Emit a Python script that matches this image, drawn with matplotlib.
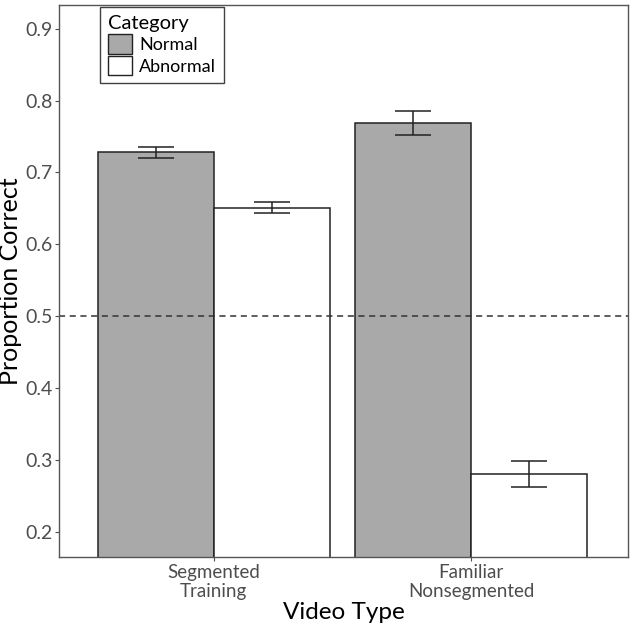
import matplotlib.pyplot as plt
import numpy as np
from matplotlib.patches import Patch

plt.rcParams['font.family'] = ['Lato', 'DejaVu Sans']

video_types = ["Segmented\nTraining", "Familiar\nNonsegmented"]
categories = ["Normal", "Abnormal"]
normal = [0.728, 0.769]
normal_err = [0.0076, 0.017]
abnormal = [0.651, 0.280]
abnormal_err = [0.008, 0.018]

fig = plt.figure(figsize=(6.3, 6.29), dpi=100)
ax = fig.add_axes([0.094, 0.115, 0.903, 0.877])

x = np.arange(1, len(video_types) + 1)
w = 0.45
for vals, errs, off, col in [(normal, normal_err, -w / 2, "#a9a9a9"),
                             (abnormal, abnormal_err, w / 2, "white")]:
    ax.bar(x + off, vals, width=w, bottom=0, color=col, edgecolor="#222222", linewidth=1.1)
    ax.errorbar(x + off, vals, yerr=errs, fmt="none", ecolor="#222222",
                elinewidth=1.1, capsize=13, capthick=1.1)

ax.axhline(0.5, color="#333333", linestyle=(0, (4, 3)), linewidth=1.1)

ax.set_xlim(0.4, 2.61)
ax.set_ylim(0.165, 0.933)
ax.set_yticks([0.2, 0.3, 0.4, 0.5, 0.6, 0.7, 0.8, 0.9])
ax.set_xticks(x)
ax.set_xticklabels(video_types, linespacing=1.2)
ax.tick_params(colors="#4d4d4d", labelsize=14, length=3, width=0.8, pad=2)
ax.tick_params(axis="x", labelsize=13.5)
for s in ax.spines.values():
    s.set_color("#555555")
    s.set_linewidth(1.0)

ax.set_xlabel("Video Type", fontsize=17.5, labelpad=1)
ax.set_ylabel("Proportion Correct", fontsize=18, labelpad=2)

handles = [Patch(facecolor="#a9a9a9", edgecolor="#222222"),
           Patch(facecolor="white", edgecolor="#222222")]
leg = ax.legend(handles, categories, title="Category", loc="upper left",
                bbox_to_anchor=(0.072, 0.996), borderaxespad=0,
                fontsize=13, title_fontsize=14.5,
                frameon=True, fancybox=False, edgecolor="#111111",
                handlelength=1.3, handleheight=1.3, handletextpad=0.4,
                labelspacing=0.1, borderpad=0.45, alignment="left")
leg.get_frame().set_linewidth(1.0)

fig.savefig("out.png")
